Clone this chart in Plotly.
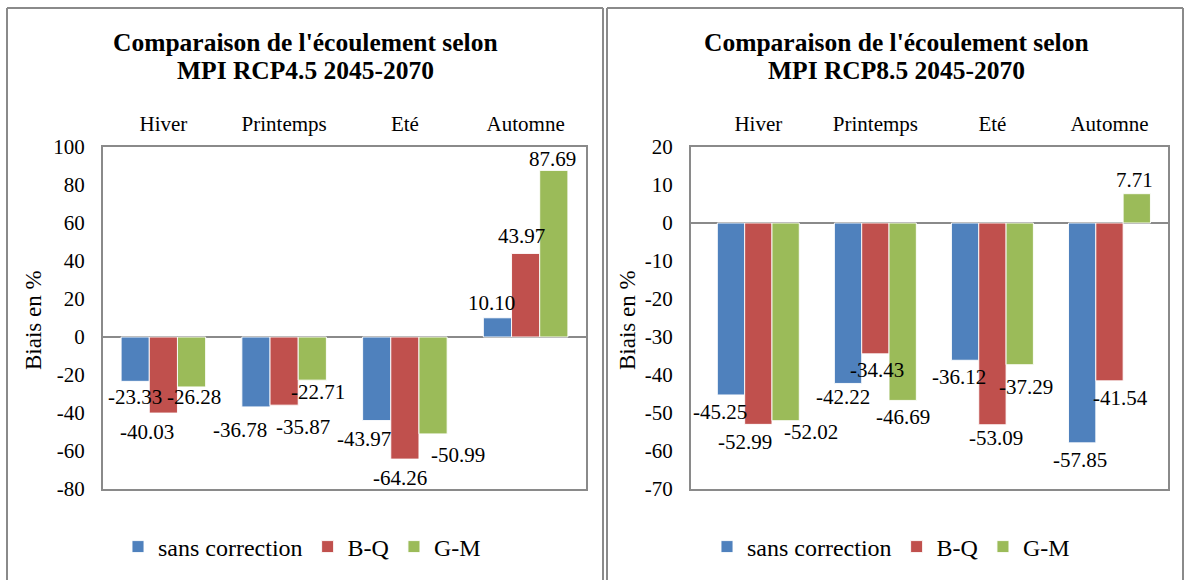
import plotly.graph_objects as go

W, H = 1186, 580

seasons = ["Hiver", "Printemps", "Eté", "Automne"]
series_names = ["sans correction", "B-Q", "G-M"]
colors = ["#4F81BD", "#C0504D", "#9BBB59"]

# RCP4.5
rcp45_sans = [-23.33, -36.78, -43.97, 10.10]
rcp45_bq = [-40.03, -35.87, -64.26, 43.97]
rcp45_gm = [-26.28, -22.71, -50.99, 87.69]

# RCP8.5
rcp85_sans = [-45.25, -42.22, -36.12, -57.85]
rcp85_bq = [-52.99, -34.43, -53.09, -41.54]
rcp85_gm = [-52.02, -46.69, -37.29, 7.71]

left_ticks = [100, 80, 60, 40, 20, 0, -20, -40, -60, -80]
left_ticktext = ["100", "80", "60", "40", "20", "0", "-20", "-40", "-60", "-80"]
right_ticks = [20, 10, 0, -10, -20, -30, -40, -50, -60, -70]
right_ticktext = ["20", "10", "0", "-10", "-20", "-30", "-40", "-50", "-60", "-70"]

title_l1 = "Comparaison de l'écoulement selon"
title_left_l2 = "MPI RCP4.5 2045-2070"
title_right_l2 = "MPI RCP8.5 2045-2070"
ytitle = "Biais en %"

# label placement nudges (pixels): [series][category] -> (dx, dy below/above bar end)
left_label_dx = [[0, -16, -13, -6], [-16, 19, -5, -4], [2, 6, 25, -1]]
left_label_dy = [[16, 23, 18, -15], [19, 22, 19, -17], [10, 12, 21, -11]]
right_label_dx = [[-11, -5, -6, -2], [-13, 2, 4, 11], [25, 0, 6, -2]]
right_label_dy = [[17, 14, 17, 17], [18, 16, 13, 17], [11, 17, 22, -14]]

FONT = "Liberation Serif, Times New Roman, serif"
TXT = 21
GRAY = "#8a8a8a"
BARGAP = 0.3

fig = go.Figure()
annotations = []

def add_panel(vals_list, xa, ya, legend, ldx, ldy):
    nser = len(vals_list)
    bw = (1 - BARGAP) / nser
    for j, (name, vals, col) in enumerate(zip(series_names, vals_list, colors)):
        fig.add_trace(go.Bar(
            x=seasons, y=vals, name=name, xaxis=xa, yaxis=ya, legend=legend,
            marker=dict(color=col, line=dict(color="rgba(255,255,255,0.9)", width=1)),
        ))
        off = (j - (nser - 1) / 2) * bw
        for i, v in enumerate(vals):
            annotations.append(dict(
                text=f"{v:.2f}", x=i + off, y=v, xref=xa, yref=ya,
                xshift=ldx[j][i], yshift=-ldy[j][i], showarrow=False,
                xanchor="center", yanchor="middle",
                font=dict(family=FONT, size=TXT, color="#000")))

add_panel([rcp45_sans, rcp45_bq, rcp45_gm], "x", "y", "legend", left_label_dx, left_label_dy)
add_panel([rcp85_sans, rcp85_bq, rcp85_gm], "x2", "y2", "legend2", right_label_dx, right_label_dy)

def px(x):
    return x / W

def py(y):
    return 1 - y / H

ydom = [py(489), py(147)]
xcommon = dict(side="top", showline=True, mirror=True, linecolor=GRAY, linewidth=2,
               ticks="", tickfont=dict(family=FONT, size=TXT, color="#000"),
               ticklabelstandoff=6, showgrid=False, fixedrange=True)
ycommon = dict(showline=True, mirror=True, linecolor=GRAY, linewidth=2, ticks="",
               tickfont=dict(family=FONT, size=TXT, color="#000"), showgrid=False,
               zeroline=True, zerolinecolor=GRAY, zerolinewidth=2, ticklabelstandoff=12,
               fixedrange=True)

LEG_FONT = dict(family=FONT, size=24, color="#000")
fig.update_layout(
    width=W, height=H, autosize=False,
    margin=dict(l=0, r=0, t=0, b=0, pad=0, autoexpand=False),
    paper_bgcolor="white", plot_bgcolor="white",
    barmode="group", bargap=BARGAP, bargroupgap=0,
    font=dict(family=FONT, size=TXT, color="#000"),
    xaxis=dict(domain=[px(103), px(586)], anchor="y", **xcommon),
    yaxis=dict(domain=ydom, anchor="x", range=[-80, 100], tickvals=left_ticks,
               ticktext=left_ticktext, **ycommon),
    xaxis2=dict(domain=[px(691), px(1168)], anchor="y2", **xcommon),
    yaxis2=dict(domain=ydom, anchor="x2", range=[-70, 20], tickvals=right_ticks,
                ticktext=right_ticktext, **ycommon),
    legend=dict(orientation="h", x=px(302), xanchor="center", y=py(547), yanchor="middle",
                font=LEG_FONT, bgcolor="rgba(0,0,0,0)"),
    legend2=dict(orientation="h", x=px(891), xanchor="center", y=py(547), yanchor="middle",
                 font=LEG_FONT, bgcolor="rgba(0,0,0,0)"),
    showlegend=True,
)

for cx, l2 in [(305, title_left_l2), (897, title_right_l2)]:
    annotations.append(dict(text=f"<b>{title_l1}</b>", x=px(cx), y=py(42), xref="paper", yref="paper",
                            showarrow=False, xanchor="center", yanchor="middle",
                            font=dict(family=FONT, size=25.5, color="#000")))
    annotations.append(dict(text=f"<b>{l2}</b>", x=px(cx), y=py(71), xref="paper", yref="paper",
                            showarrow=False, xanchor="center", yanchor="middle",
                            font=dict(family=FONT, size=25.5, color="#000")))
for cx in [33, 627]:
    annotations.append(dict(text=ytitle, x=px(cx), y=py(320), xref="paper", yref="paper",
                            showarrow=False, textangle=-90, xanchor="center", yanchor="middle",
                            font=dict(family=FONT, size=23, color="#000")))
fig.update_layout(annotations=annotations)

shapes = []
def line(x0, y0, x1, y1):
    shapes.append(dict(type="line", xref="paper", yref="paper",
                       x0=px(x0), y0=py(y0), x1=px(x1), y1=py(y1),
                       line=dict(color=GRAY, width=2)))
line(7, 8, 7, 600)
line(7, 8, 603, 8)
line(603, 8, 603, 600)
line(607, 8, 607, 600)
line(607, 8, 1183, 8)
line(1183, 8, 1183, 600)
fig.update_layout(shapes=shapes)

fig.write_html("out.html", config={"displayModeBar": False},
               post_script="document.body.style.margin='0';document.body.style.overflow='hidden';")
